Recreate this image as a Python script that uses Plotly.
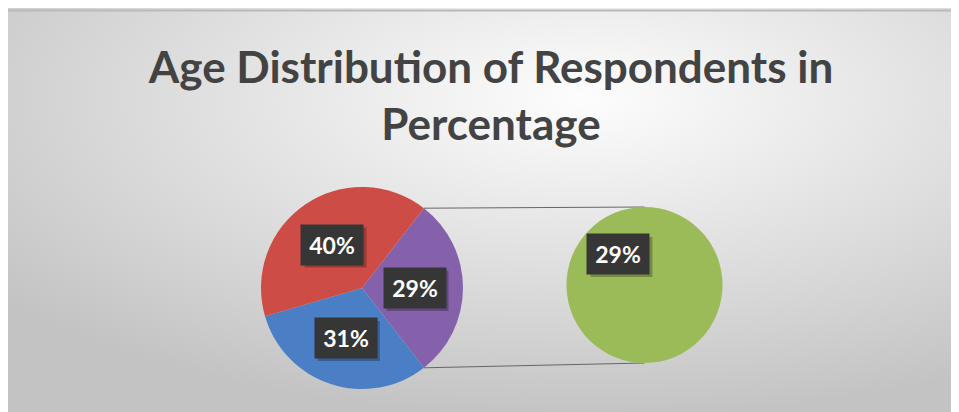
import base64
import math
import plotly.graph_objects as go

# ---------------- data ----------------
main_labels = ["Other (split)", "Age group B", "Age group A"]   # purple, blue, red
main_values = [29, 31, 40]
main_colors = ["#8461AA", "#4A7EC5", "#CD4C46"]

second_labels = ["Age group C"]
second_values = [29]
second_colors = ["#9BBB59"]

title_text = "Age Distribution of Respondents in<br>Percentage"

# ---------------- layout geometry (screen pixels) ----------------
W, H = 959, 412
OFF = 8  # page body margin
main_cx, main_cy, main_r = 362, 288, 101
sec_cx, sec_cy, sec_r = 644.5, 285, 78
label_rf = 0.52
box_w, box_h = 62, 40


def px(x):
    return (x - OFF) / W


def py(y):
    return 1 - (y - OFF) / H


def domain(cx, cy, r):
    return dict(x=[px(cx - r), px(cx + r)], y=[py(cy + r), py(cy - r)])


total = sum(main_values)
rotation = 90 - main_values[0] / total * 360 / 2

fig = go.Figure()
fig.add_trace(go.Pie(
    labels=main_labels, values=main_values, sort=False, direction="clockwise",
    rotation=rotation, marker=dict(colors=main_colors, line=dict(width=0)),
    textinfo="none", domain=domain(main_cx, main_cy, main_r), showlegend=False,
))
sec_rotation = 140
fig.add_trace(go.Pie(
    labels=second_labels, values=second_values, sort=False, direction="clockwise",
    rotation=sec_rotation, marker=dict(colors=second_colors, line=dict(width=0)),
    textinfo="none", domain=domain(sec_cx, sec_cy, sec_r), showlegend=False,
))

annotations = []
shapes = []


def add_label(cx, cy, r, ang_deg, text):
    a = math.radians(ang_deg)
    x = cx + label_rf * r * math.sin(a)
    y = cy - label_rf * r * math.cos(a)
    # soft shadow box
    shapes.append(dict(type="rect", xref="paper", yref="paper",
                       xsizemode="pixel", ysizemode="pixel",
                       xanchor=px(x), yanchor=py(y),
                       x0=-box_w / 2 + 3, x1=box_w / 2 + 3,
                       y0=-box_h / 2 - 3, y1=box_h / 2 - 3,
                       fillcolor="rgba(0,0,0,0.25)", line=dict(width=0),
                       layer="above"))
    annotations.append(dict(xref="paper", yref="paper", x=px(x), y=py(y), text=text,
                            showarrow=False, width=box_w - 12, height=box_h - 12,
                            borderpad=6, xanchor="center", yanchor="middle",
                            bgcolor="#363636",
                            font=dict(family="Lato", size=23, color="white",
                                      weight="bold")))


cum = 0
for v in main_values:
    mid = rotation + (cum + v / 2) / total * 360
    add_label(main_cx, main_cy, main_r, mid, f"{v}%")
    cum += v
add_label(sec_cx, sec_cy, sec_r, sec_rotation + 180, f"{second_values[0]}%")

# connector lines from the "other" slice to the secondary pie
a0 = math.radians(rotation)
a1 = math.radians(rotation + main_values[0] / total * 360)
for a, sy in ((a0, sec_cy - sec_r), (a1, sec_cy + sec_r)):
    x0 = main_cx + main_r * math.sin(a)
    y0 = main_cy - main_r * math.cos(a)
    shapes.append(dict(type="line", xref="paper", yref="paper",
                       x0=px(x0), y0=py(y0), x1=px(sec_cx), y1=py(sy),
                       line=dict(color="#666666", width=1), layer="below"))
# top edge of chart area
shapes.append(dict(type="line", xref="paper", yref="paper",
                   x0=0, x1=1, y0=py(10.5), y1=py(10.5),
                   line=dict(color="#b9b9b9", width=2), layer="below"))

svg = (
    '<svg xmlns="http://www.w3.org/2000/svg" width="959" height="412" '
    'preserveAspectRatio="none" viewBox="0 0 959 412">'
    '<defs><radialGradient id="g" cx="0.6" cy="0.22" r="0.78">'
    '<stop offset="0" stop-color="#fdfdfd"/>'
    '<stop offset="0.3" stop-color="#ececec"/>'
    '<stop offset="1" stop-color="#c3c3c3"/>'
    '</radialGradient></defs>'
    '<rect width="959" height="412" fill="url(#g)"/></svg>'
)
bg_src = "data:image/svg+xml;base64," + base64.b64encode(svg.encode()).decode()

fig.update_layout(
    width=W, height=H,
    margin=dict(l=0, r=0, t=0, b=0),
    paper_bgcolor="#d0d0d0", plot_bgcolor="rgba(0,0,0,0)",
    title=dict(text=title_text, x=px(491), xanchor="center", xref="paper",
               y=py(97 - 14), yanchor="middle", yref="paper",
               font=dict(family="Lato", size=44, color="#434343", weight="bold")),
    images=[dict(source=bg_src, xref="paper", yref="paper",
                 x=0, y=1, sizex=1, sizey=1,
                 xanchor="left", yanchor="top", sizing="stretch", layer="below")],
    shapes=shapes,
    annotations=annotations,
)

fig.write_html("out.html")
